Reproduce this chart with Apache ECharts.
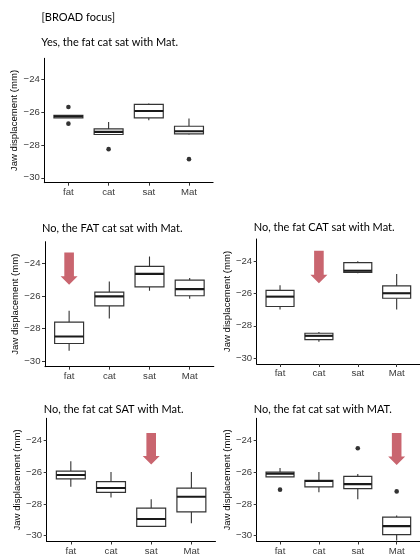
<!DOCTYPE html>
<html>
<head>
<meta charset="utf-8">
<script src="https://cdn.jsdelivr.net/npm/echarts@6/dist/echarts.min.js"></script>
<style>
html,body{margin:0;padding:0;background:#fff;}
#chart{width:420px;height:556px;}
</style>
</head>
<body>
<div id="chart"></div>
<script>
// ---- data ----
const categories = ['fat', 'cat', 'sat', 'Mat'];
const yTicks = [-30, -28, -26, -24];
const mainTitle = '[BROAD focus]';
const panelTitles = [
  'Yes, the fat cat sat with Mat.',
  'No, the FAT cat sat with Mat.',
  'No, the fat CAT sat with Mat.',
  'No, the fat cat SAT with Mat.',
  'No, the fat cat sat with MAT.'
];
const yName = 'Jaw displacement (mm)';

// boxes: [min, Q1, median, Q3, max] per category
const broadBoxes = [
  [-26.36, -26.36, -26.26, -26.20, -26.20],
  [-27.40, -27.37, -27.21, -27.03, -26.61],
  [-26.50, -26.36, -25.94, -25.54, -25.49],
  [-27.37, -27.33, -27.17, -26.87, -26.40]
];
const fatBoxes = [
  [-29.38, -28.93, -28.50, -27.62, -26.92],
  [-27.39, -26.61, -26.03, -25.77, -25.11],
  [-25.68, -25.44, -24.64, -24.18, -23.57],
  [-26.18, -25.99, -25.58, -25.03, -24.90]
];
const catBoxes = [
  [-27.00, -26.81, -26.20, -25.81, -25.50],
  [-28.99, -28.85, -28.62, -28.46, -28.38],
  [-24.76, -24.70, -24.60, -24.10, -24.02],
  [-27.00, -26.30, -25.99, -25.54, -24.80]
];
const satBoxes = [
  [-26.92, -26.42, -26.18, -25.93, -25.31],
  [-27.60, -27.27, -27.00, -26.59, -25.99],
  [-29.42, -29.42, -28.95, -28.27, -27.70],
  [-29.22, -28.50, -27.55, -27.00, -25.99]
];
const matBoxes = [
  [-26.30, -26.30, -26.10, -25.99, -25.73],
  [-27.27, -26.92, -26.55, -26.51, -25.99],
  [-27.70, -27.04, -26.75, -26.26, -26.12],
  [-30.30, -29.94, -29.40, -28.83, -28.73]
];
// outliers: [categoryIndex, value]
const broadOutliers = [[0, -25.70], [0, -26.71], [1, -28.26], [3, -28.87]];
const fatOutliers = [];
const catOutliers = [];
const satOutliers = [];
const matOutliers = [[0, -27.10], [2, -24.49], [3, -27.21]];
// arrows: [panelIndex, categoryIndex, topValue, tipValue]
const arrows = [
  [1, 0, -23.32, -25.31],
  [2, 1, -23.36, -25.38],
  [3, 2, -23.53, -25.52],
  [4, 3, -23.53, -25.54]
];

const panelBoxes = [broadBoxes, fatBoxes, catBoxes, satBoxes, matBoxes];
const panelOutliers = [broadOutliers, fatOutliers, catOutliers, satOutliers, matOutliers];

// ---- layout ----
const grids = [
  {left: 44.3, top: 58.3, width: 168.8, height: 124.4, yMin: -30.30, yMax: -22.74},
  {left: 45.0, top: 241.7, width: 168.8, height: 125, yMin: -30.36, yMax: -22.66},
  {left: 256.7, top: 239.0, width: 168.8, height: 125, yMin: -30.36, yMax: -22.64},
  {left: 46.7, top: 418.3, width: 168.8, height: 126, yMin: -30.37, yMax: -22.60},
  {left: 256.7, top: 418.3, width: 168.8, height: 126, yMin: -30.37, yMax: -22.60}
];
const titleTops = [37, 222.5, 221.5, 403.5, 403.5];

const AXFONT = '"Liberation Sans", Arial, sans-serif';
const TFONT = 'Lato, "Noto Sans", sans-serif';
const BOXW = 0.72;

function renderBox(params, api) {
  const x = api.value(0);
  const pMin = api.coord([x, api.value(1)]);
  const pQ1 = api.coord([x, api.value(2)]);
  const pMed = api.coord([x, api.value(3)]);
  const pQ3 = api.coord([x, api.value(4)]);
  const pMax = api.coord([x, api.value(5)]);
  const hw = api.size([BOXW, 0])[0] / 2;
  const st = {stroke: '#333', lineWidth: 1.1, fill: null};
  return {
    type: 'group',
    children: [
      {type: 'line', shape: {x1: pMin[0], y1: pMin[1], x2: pQ1[0], y2: pQ1[1]}, style: st},
      {type: 'line', shape: {x1: pQ3[0], y1: pQ3[1], x2: pMax[0], y2: pMax[1]}, style: st},
      {type: 'rect', shape: {x: pQ3[0] - hw, y: pQ3[1], width: 2 * hw, height: pQ1[1] - pQ3[1]},
        style: {fill: '#fff', stroke: '#333', lineWidth: 1.2}},
      {type: 'line', shape: {x1: pMed[0] - hw, y1: pMed[1], x2: pMed[0] + hw, y2: pMed[1]},
        style: {stroke: '#1a1a1a', lineWidth: 2.1}}
    ]
  };
}

function renderArrow(params, api) {
  const x = api.value(0);
  const top = api.coord([x, api.value(1)]);
  const tip = api.coord([x, api.value(2)]);
  const shaftHalf = 4.8, headHalf = 8.5, headH = 8.5;
  const cx = top[0];
  const hy = tip[1] - headH;
  return {
    type: 'polygon',
    shape: {points: [
      [cx - shaftHalf, top[1]], [cx + shaftHalf, top[1]], [cx + shaftHalf, hy],
      [cx + headHalf, hy], [cx, tip[1]], [cx - headHalf, hy], [cx - shaftHalf, hy]
    ]},
    style: {fill: '#c9656f'}
  };
}

const option = {
  animation: false,
  backgroundColor: '#ffffff',
  title: [{
    text: mainTitle, left: 41.5, top: 12, padding: 0,
    textStyle: {fontFamily: TFONT, fontSize: 11, fontWeight: 'normal', color: '#000'}
  }].concat(panelTitles.map((t, i) => ({
    text: t, left: grids[i].left - 3, top: titleTops[i], padding: 0,
    textStyle: {fontFamily: TFONT, fontSize: 11, fontWeight: 'normal', color: '#000'}
  }))),
  grid: grids.map(g => ({left: g.left, top: g.top, width: g.width, height: g.height, containLabel: false})),
  xAxis: grids.map((g, i) => ({
    type: 'value', gridIndex: i, min: 0.4, max: 4.6,
    splitLine: {show: false},
    axisLine: {show: true, lineStyle: {color: '#000', width: 1}},
    axisTick: {show: true, length: 3, lineStyle: {color: '#333'}, customValues: [1, 2, 3, 4]},
    axisLabel: {
      customValues: [1, 2, 3, 4], margin: 4.5,
      formatter: v => categories[Math.round(v) - 1] || '',
      fontFamily: AXFONT, fontSize: 9.6, color: '#3a3a3a'
    }
  })),
  yAxis: grids.map((g, i) => ({
    type: 'value', gridIndex: i, min: g.yMin, max: g.yMax,
    name: yName, nameLocation: 'middle', nameGap: 22,
    nameTextStyle: {fontFamily: AXFONT, fontSize: 9.6, color: '#000'},
    splitLine: {show: false},
    axisLine: {show: true, lineStyle: {color: '#000', width: 1}},
    axisTick: {show: true, length: 3, lineStyle: {color: '#333'}, customValues: yTicks},
    axisLabel: {
      customValues: yTicks, margin: 4.5,
      formatter: v => String(Math.round(v)).replace('-', '\u2212'),
      fontFamily: AXFONT, fontSize: 9.6, color: '#3a3a3a'
    }
  })),
  series: []
};

panelBoxes.forEach((boxes, i) => {
  option.series.push({
    type: 'custom', xAxisIndex: i, yAxisIndex: i,
    renderItem: renderBox,
    encode: {x: 0, y: [1, 2, 3, 4, 5]},
    data: boxes.map((b, k) => [k + 1].concat(b)),
    clip: true, z: 2
  });
  option.series.push({
    type: 'scatter', xAxisIndex: i, yAxisIndex: i,
    symbolSize: 4.6, itemStyle: {color: '#000'},
    data: panelOutliers[i].map(o => [o[0] + 1, o[1]]), z: 3
  });
});
arrows.forEach(a => {
  option.series.push({
    type: 'custom', xAxisIndex: a[0], yAxisIndex: a[0],
    renderItem: renderArrow,
    encode: {x: 0, y: [1, 2]},
    data: [[a[1] + 1, a[2], a[3]]], z: 4
  });
});

const chart = echarts.init(document.getElementById('chart'), null, {renderer: 'canvas'});
chart.setOption(option);
</script>
</body>
</html>
